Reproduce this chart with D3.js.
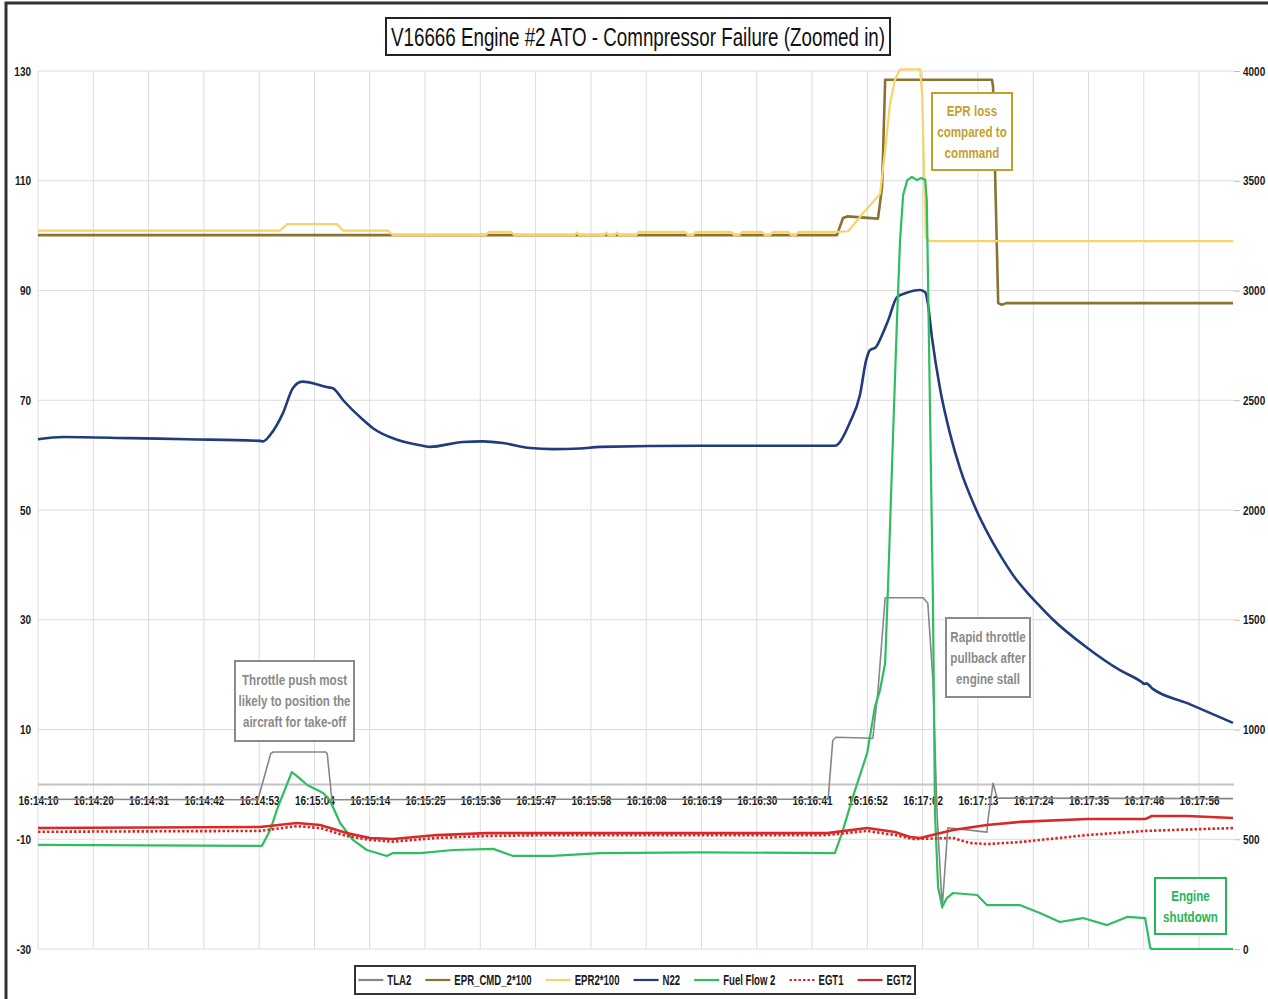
<!DOCTYPE html>
<html>
<head>
<meta charset="utf-8">
<script src="https://cdn.jsdelivr.net/npm/d3@7/dist/d3.min.js"></script>
<style>
  body { margin: 0; background: #fff; }
  svg text { font-family: "Liberation Sans", Arial, sans-serif; }
</style>
</head>
<body>
<svg id="chart" width="1268" height="999"></svg>
<script>
// ---- Data: time in seconds after 16:14:10 ----
const titleText = "V16666 Engine #2 ATO - Comnpressor Failure (Zoomed in)";
const tickLabels = ["16:14:10","16:14:20","16:14:31","16:14:42","16:14:53","16:15:04","16:15:14",
  "16:15:25","16:15:36","16:15:47","16:15:58","16:16:08","16:16:19","16:16:30","16:16:41",
  "16:16:52","16:17:02","16:17:13","16:17:24","16:17:35","16:17:46","16:17:56"];
const labelSpan = 226;          // seconds from first to last time label
const timeMax = 232.8;          // end of recorded window
const leftTicks = [130, 110, 90, 70, 50, 30, 10, -10, -30];
const rightTicks = [0, 500, 1000, 1500, 2000, 2500, 3000, 3500, 4000];

// Throttle lever angle (deg), left axis
const tla2 = [[0,-2.7],[42.8,-2.8],[45.3,5.6],[45.8,5.9],[56,5.9],[56.3,5.6],[57.2,-2.8],[100,-2.7],
  [153.8,-2.7],[154.7,8.0],[155.3,8.6],[162.5,8.4],[163.5,17.0],[164.9,34.0],[172.3,34.0],[173.2,33.0],
  [174.2,19.0],[175.0,-5.2],[176.0,-22.5],[177.1,-7.9],[184.7,-8.7],[184.9,-6.5],[185.9,0.2],[186.7,-2.5],[232.6,-2.6]];

// EPR command x100, left axis
const eprCmd2 = [[0,100.1],[155.5,100.1],[156.7,103.2],[157.5,103.5],[163.5,103.1],[164.3,108.9],[164.9,128.4],
  [185.7,128.4],[185.9,127.1],[186.9,87.7],[187.6,87.4],[188.5,87.7],[232.6,87.7]];

// Actual EPR x100, left axis
const epr2 = [[0,100.9],[47.1,100.9],[48.5,102.1],[58.2,102.1],[59.4,100.9],[68.1,100.9],[69.1,100.1],
  [87.2,100.1],[87.8,100.7],[92.1,100.7],[92.7,100.1],
  [104.5,100.1],[104.9,100.6],[105.3,100.1],
  [110.2,100.1],[110.6,100.6],[111.0,100.1],
  [112.3,100.1],[112.7,100.6],[113.1,100.1],
  [116.4,100.1],[117.0,100.7],[125.9,100.7],[126.5,100.1],
  [127.5,100.1],[128.1,100.7],[134.9,100.7],[135.5,100.1],
  [136.5,100.1],[137.1,100.7],[140.9,100.7],[141.5,100.1],
  [142.5,100.1],[143.1,100.7],[146.0,100.7],[146.6,100.1],
  [147.5,100.1],[148.1,100.7],[155.2,100.7],[157.7,100.8],[160.6,104.1],[163.9,107.6],[164.9,115.6],
  [165.8,123.8],[166.8,128.4],[167.8,130.3],[171.7,130.3],[172.1,125.6],[172.8,99.6],[173.6,99.0],[232.6,99.0]];

// N2 speed (%), left axis
const n22 = [[0,62.9],[4.9,63.3],[17.9,63.1],[29,62.9],[43.2,62.6],[43.8,62.5],[45.2,63.7],[47.7,67.7],
  [49.6,72.2],[51.4,73.4],[56.8,72.3],[57.4,72.2],[59.4,70.0],[63.3,66.4],[65.2,64.9],[69.9,62.8],
  [74.9,61.7],[76.3,61.5],[82.7,62.4],[86.6,62.5],[90.5,62.2],[95.8,61.3],[100.2,61.1],[105.5,61.2],
  [109.4,61.5],[128.9,61.7],[155.1,61.7],[155.7,62.0],[158.0,65.9],[160.0,71.0],[161.2,77.3],[161.9,79.1],
  [163.1,79.7],[164.3,81.9],[165.5,84.6],[167.2,88.8],[168.8,89.5],[171.7,90.1],[172.7,89.7],[173.2,87.7],
  [174.0,81.5],[175.6,72.0],[177.5,64.0],[179.5,57.5],[182.4,50.5],[185.3,45.0],[187.8,41.0],[190.2,37.6],
  [192.5,35.0],[195.0,32.5],[197.6,30.0],[204.2,24.9],[210.6,20.8],[214.9,18.6],[215.3,18.3],[215.7,18.4],
  [217.0,17.4],[223.7,14.8],[232.6,11.2]];

// Fuel flow, right axis
const fuelFlow2 = [[0,474],[43.6,470],[45.2,542],[46.7,647],[49.4,806],[50.6,784],[52.4,747],[55.5,711],
  [56.8,679],[58.8,574],[61.3,497],[64.0,451],[67.9,424],[69.1,437],[74.4,437],[80.8,451],[88.6,456],
  [92.5,424],[100.2,424],[109.4,437],[128.9,440],[155.1,437],[156.5,528],[158.6,692],[161.4,893],
  [162.9,1102],[163.9,1180],[164.9,1303],[165.5,1681],[166.4,2319],[167.2,2866],[167.8,3230],[168.4,3435],
  [169.2,3503],[170.1,3517],[171.1,3503],[171.9,3512],[172.7,3503],[173.0,3412],[173.6,2501],[174.2,1590],
  [174.6,620],[175.2,282],[176.0,191],[176.9,232],[178.1,255],[182.8,246],[184.7,200],[191.1,200],
  [195.0,164],[198.9,123],[203.4,141],[208.1,109],[212.0,146],[215.5,141],[216.5,5],[216.8,0],[232.6,0]];

// Exhaust gas temperatures, right axis
const egt1 = [[0,534],[43.2,538],[50.4,560],[54.9,551],[60.1,515],[64.6,497],[69.1,489],[77.7,506],
  [87.4,515],[100.2,519],[153.6,519],[161.4,538],[166.8,519],[170.3,501],[178.1,506],[181.4,483],
  [184.7,478],[191.1,487],[204.2,519],[215.5,538],[232.6,551]];
const egt2 = [[0,551],[43.2,556],[50.4,574],[54.9,565],[60.1,528],[64.6,506],[69.1,501],[77.7,519],
  [87.4,528],[100.2,528],[153.6,528],[161.4,551],[166.8,533],[169.7,510],[171.7,506],[178.1,542],
  [184.7,565],[191.1,579],[204.2,592],[215.5,592],[216.8,606],[223.7,606],[232.6,597]];

const seriesNames = ["TLA2","EPR_CMD_2*100","EPR2*100","N22","Fuel Flow 2","EGT1","EGT2"];
const throttleNote = ["Throttle push most", "likely to position the", "aircraft for take-off"];
const eprNote = ["EPR loss", "compared to", "command"];
const pullbackNote = ["Rapid throttle", "pullback after", "engine stall"];
const shutdownNote = ["Engine", "shutdown"];

// ---- Layout ----
const svg = d3.select("#chart");
const plot = { left: 38, right: 1234, top: 71, bottom: 949 };
const NARROW = 0.8;   // condensed look for all labels

// squeeze a text horizontally while keeping its anchor point fixed
function narrow(sel, f = NARROW) {
  sel.each(function () {
    const el = d3.select(this);
    const x0 = +el.attr("x") || 0;
    el.attr("transform", `translate(${x0 * (1 - f)},0) scale(${f},1)`);
  });
}

const x = d3.scaleLinear().domain([0, timeMax]).range([plot.left, plot.right]);
const yL = d3.scaleLinear().domain([-30, 130]).range([plot.bottom, plot.top]);
const yR = d3.scaleLinear().domain([0, 4000]).range([plot.bottom, plot.top]);
const tickStep = labelSpan / (tickLabels.length - 1);
const tickTimes = tickLabels.map((_, i) => i * tickStep);

// outer frame
svg.append("path").attr("d", "M6,999 L6,3 L1268,3")
  .attr("fill", "none").attr("stroke", "#333").attr("stroke-width", 3);

// gridlines
const grid = svg.append("g");
grid.selectAll("line.v").data(tickTimes).join("line")
  .attr("x1", d => x(d)).attr("x2", d => x(d))
  .attr("y1", plot.top).attr("y2", plot.bottom)
  .attr("stroke", "#dcdcdc").attr("stroke-width", 1);
grid.selectAll("line.h").data(leftTicks).join("line")
  .attr("x1", plot.left).attr("x2", plot.right)
  .attr("y1", d => yL(d)).attr("y2", d => yL(d))
  .attr("stroke", "#dcdcdc").attr("stroke-width", 1);
// category axis line at zero
svg.append("line").attr("x1", plot.left).attr("x2", plot.right)
  .attr("y1", yL(0)).attr("y2", yL(0)).attr("stroke", "#c4c4c4").attr("stroke-width", 2);

function styleTicks(sel) {
  sel.attr("font-size", 12.5).attr("font-weight", "bold").attr("fill", "#1a1a1a")
    .style("font-family", '"Liberation Sans", Arial, sans-serif');
  narrow(sel);
}

// left axis labels
const leftAxis = d3.axisLeft(yL).tickValues(leftTicks).tickFormat(d => String(d))
  .tickSize(0).tickPadding(7);
svg.append("g").attr("transform", `translate(${plot.left},0)`).call(leftAxis)
  .call(g => g.select(".domain").remove())
  .selectAll("text").call(styleTicks);

// right axis
const rightAxis = d3.axisRight(yR).tickValues(rightTicks).tickFormat(d => String(d))
  .tickSize(6).tickPadding(3);
svg.append("g").attr("transform", `translate(${plot.right},0)`).call(rightAxis)
  .call(g => g.select(".domain").remove())
  .call(g => g.selectAll("line").attr("stroke", "#bdbdbd"))
  .selectAll("text").call(styleTicks);

// time labels, sitting just below the zero line
const timeAxis = d3.axisBottom(x).tickValues(tickTimes).tickFormat((d, i) => tickLabels[i])
  .tickSize(0).tickPadding(12);
svg.append("g").attr("transform", `translate(0,${yL(0)})`).call(timeAxis)
  .call(g => g.select(".domain").remove())
  .selectAll("text").call(styleTicks);

// ---- Series ----
const lineL = d3.line().x(d => x(d[0])).y(d => yL(d[1]));
const lineR = d3.line().x(d => x(d[0])).y(d => yR(d[1]));
const lineSmooth = d3.line().x(d => x(d[0])).y(d => yL(d[1])).curve(d3.curveMonotoneX);

const series = [
  { data: tla2, gen: lineL, color: "#878787", w: 1.6 },
  { data: eprCmd2, gen: lineL, color: "#8a7232", w: 2.6 },
  { data: epr2, gen: lineL, color: "#f7d46a", w: 2.2 },
  { data: n22, gen: lineSmooth, color: "#213c7c", w: 2.6 },
  { data: fuelFlow2, gen: lineR, color: "#2fbd5f", w: 2.2 },
  { data: egt1, gen: lineR, color: "#d62a2a", w: 2.6, dash: "2.5,2" },
  { data: egt2, gen: lineR, color: "#d62a2a", w: 2.6 }
];
const lines = svg.append("g").attr("fill", "none")
  .attr("stroke-linejoin", "round");
series.forEach(s => {
  lines.append("path").attr("d", s.gen(s.data))
    .attr("stroke", s.color).attr("stroke-width", s.w)
    .attr("stroke-dasharray", s.dash || null);
});

// ---- Title ----
svg.append("rect").attr("x", 386).attr("y", 18).attr("width", 504).attr("height", 37)
  .attr("fill", "#fff").attr("stroke", "#222").attr("stroke-width", 2);
svg.append("text").attr("x", 638).attr("y", 46).attr("text-anchor", "middle")
  .attr("font-size", 26).attr("fill", "#111")
  .attr("textLength", 494).attr("lengthAdjust", "spacingAndGlyphs")
  .text(titleText);

// ---- Annotation boxes ----
function note(lines, bx, by, bw, bh, color, lineGap) {
  const g = svg.append("g");
  g.append("rect").attr("x", bx).attr("y", by).attr("width", bw).attr("height", bh)
    .attr("fill", "#fff").attr("stroke", color).attr("stroke-width", 2);
  const top = by + bh / 2 - (lines.length - 1) * lineGap / 2;
  lines.forEach((t, i) => {
    g.append("text").attr("x", bx + bw / 2).attr("y", top + i * lineGap)
      .attr("dy", "0.35em").attr("text-anchor", "middle")
      .attr("font-size", 14.5).attr("font-weight", "bold").attr("fill", color).text(t)
      .call(narrow);
  });
}
note(throttleNote, 235, 661, 119, 80, "#8a8a8a", 21);
note(eprNote, 932, 93, 80, 77, "#c59f2c", 21);
note(pullbackNote, 946, 618, 84, 79, "#8a8a8a", 21);
note(shutdownNote, 1155, 878, 71, 56, "#27b558", 21);

// ---- Legend ----
const LEGEND_NARROW = 0.64;
const box = { x: 355, y: 966, w: 560, h: 28 };
const lg = svg.append("g");
lg.append("rect").attr("x", box.x).attr("y", box.y).attr("width", box.w).attr("height", box.h)
  .attr("fill", "#fff").attr("stroke", "#333").attr("stroke-width", 2);
const items = lg.append("g");
let cx = 0;
const cy = box.y + box.h / 2;
seriesNames.forEach((name, i) => {
  const s = series[i];
  items.append("line").attr("x1", cx).attr("x2", cx + 25).attr("y1", cy).attr("y2", cy)
    .attr("stroke", s.color).attr("stroke-width", 2.2).attr("stroke-dasharray", s.dash || null);
  const t = items.append("text").attr("x", cx + 29).attr("y", cy).attr("dy", "0.35em")
    .attr("font-size", 15).attr("font-weight", "bold").attr("fill", "#1a1a1a").text(name);
  const w = t.node().getComputedTextLength() * LEGEND_NARROW;
  narrow(t, LEGEND_NARROW);
  cx += 29 + w + (i < seriesNames.length - 1 ? 14 : 0);
});
items.attr("transform", `translate(${box.x + (box.w - cx) / 2},0)`);
</script>
</body>
</html>
